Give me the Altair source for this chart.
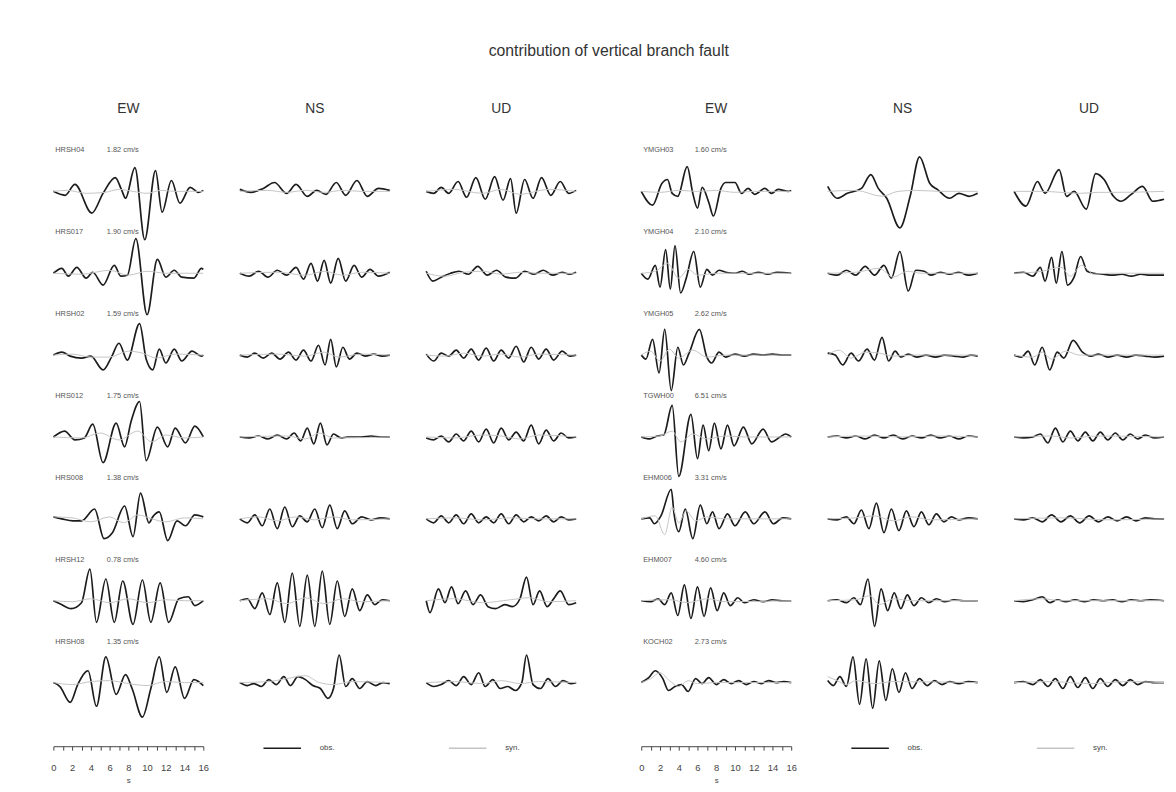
import altair as alt
import pandas as pd

TITLE = "contribution of vertical branch fault"
COMPONENTS = ["EW", "NS", "UD"]
KINDS = ["obs.", "syn."]
TIME_TICKS = list(range(0, 17))

LEFT_STATIONS = ["HRSH04", "HRS017", "HRSH02", "HRS012", "HRS008", "HRSH12", "HRSH08"]
LEFT_PGV = ["1.82 cm/s", "1.90 cm/s", "1.59 cm/s", "1.75 cm/s", "1.38 cm/s", "0.78 cm/s", "1.35 cm/s"]
RIGHT_STATIONS = ["YMGH03", "YMGH04", "YMGH05", "TGWH00", "EHM006", "EHM007", "KOCH02"]
RIGHT_PGV = ["1.60 cm/s", "2.10 cm/s", "2.62 cm/s", "6.51 cm/s", "3.31 cm/s", "4.60 cm/s", "2.73 cm/s"]

# ---- waveforms: (time s, amplitude) ----
# row 1 left
HRSH04_EW_OBS = [(0,0),(1.25,-4),(2.3,7),(4.1,-22),(5.3,-2),(6.6,14),(7.3,1),(7.7,-7),(8.7,24),(9.75,-49),(10.9,21),(11.6,-21),(12.6,11),(13.5,-12),(14.6,4),(15.5,-1),(16,1)]
HRSH04_EW_SYN = [(0,0),(1.5,1),(3.5,-2),(5.5,-1),(7,2),(8.5,0),(10,-2),(11.5,1),(13,0),(16,0)]
HRSH04_NS_OBS = [(0,2),(1.2,-1),(2.5,3),(3.7,9),(5.0,-2),(6.0,7),(7.2,-5),(8.2,1),(9.2,-3),(10.3,9),(11.3,-4),(12.5,11),(13.6,-5),(14.8,3),(16,1)]
HRSH04_NS_SYN = [(0,0),(3,1),(5,-1),(7,1),(9,-1),(11,1),(13,0),(16,0)]
HRSH04_UD_OBS = [(0,0),(0.8,-2),(1.6,4),(2.4,-2),(3.4,10),(4.3,-6),(5.3,14),(6.3,-8),(7.3,15),(8.2,-9),(9.0,13),(9.6,-22),(10.5,12),(11.4,-7),(12.3,14),(13.3,-4),(14.3,10),(15.2,-2),(16,1)]
HRSH04_UD_SYN = [(0,0),(3,2),(6,-2),(8,2),(10,-3),(13,2),(16,0)]
# row 2 left
HRS017_EW_OBS = [(0,0),(0.9,5),(1.6,-3),(2.5,6),(3.5,-5),(4.2,1),(5.3,-12),(6.5,8),(7.2,-3),(7.9,-2),(8.8,35),(10.0,-42),(11.1,14),(12.0,-4),(12.9,3),(13.7,-4),(15.0,-5),(15.8,5),(16,4)]
HRS017_EW_SYN = [(0,0),(3,-1),(6,3),(8,-2),(10,2),(12,0),(16,0)]
HRS017_NS_OBS = [(0,0),(1,-3),(2,2),(3,-4),(4,3),(5,-2),(6,6),(6.8,-6),(7.6,10),(8.3,-8),(9.0,13),(9.7,-10),(10.5,15),(11.3,-8),(12.2,8),(13.0,-4),(13.9,4),(14.8,-3),(16,1)]
HRS017_NS_SYN = [(0,0),(4,1),(7,-2),(9,2),(11,-2),(13,1),(16,0)]
HRS017_UD_OBS = [(0,2),(0.7,-8),(1.6,-4),(2.6,0),(3.5,2),(4.5,-1),(5.5,7),(6.5,-2),(7.5,3),(8.5,-4),(9.5,-5),(10.5,2),(11.5,-1),(12.5,3),(13.5,-2),(14.5,1),(15.3,-1),(16,1)]
HRS017_UD_SYN = [(0,0),(2,-3),(4,1),(6,2),(8,-1),(10,1),(12,0),(16,0)]
# row 3 left
HRSH02_EW_OBS = [(0,0),(0.9,3),(1.8,-1),(3.0,-3),(4.0,-1),(5.3,-15),(6.2,-2),(7.0,12),(7.9,-5),(9.2,32),(9.9,-4),(10.6,-15),(11.3,6),(12.0,-8),(12.9,6),(13.7,-6),(14.8,4),(15.8,-1),(16,0)]
HRSH02_EW_SYN = [(0,0),(2,1),(4,-2),(6,-2),(8,4),(9.5,2),(11,-3),(13,1),(16,0)]
HRSH02_NS_OBS = [(0,0),(0.8,-2),(1.6,2),(2.5,-3),(3.4,2),(4.3,-4),(5.2,3),(6.0,-5),(6.8,5),(7.6,-6),(8.4,10),(9.1,-10),(9.7,16),(10.3,-12),(11.0,8),(11.7,-4),(12.5,2),(13.4,-1),(14.3,1),(15.2,-1),(16,0)]
HRSH02_NS_SYN = [(0,0),(4,1),(7,-1),(9,3),(10.5,-2),(13,1),(16,0)]
HRSH02_UD_OBS = [(0,1),(0.8,-6),(1.6,2),(2.4,-1),(3.2,5),(4.0,-3),(4.8,6),(5.6,-5),(6.4,7),(7.2,-6),(8.0,5),(8.8,-3),(9.6,9),(10.4,-7),(11.2,8),(12.0,-4),(12.8,6),(13.6,-5),(14.5,4),(15.3,-1),(16,0)]
HRSH02_UD_SYN = [(0,0),(2,-1),(4,2),(6,-1),(8,1),(10,-2),(12,1),(16,0)]
# row 4 left
HRS012_EW_OBS = [(0,0),(1.2,6),(2.3,-3),(3.3,-1),(4.2,13),(5.3,-26),(6.7,14),(7.6,-10),(8.3,16),(9.2,36),(9.9,-24),(11.1,10),(12.2,-10),(13.0,9),(14.1,-6),(15.1,11),(16,0)]
HRS012_EW_SYN = [(0,0),(3,-1),(5,4),(7,-3),(9,6),(10.5,-5),(12,2),(14,-1),(16,0)]
HRS012_NS_OBS = [(0,0),(1,-1),(2,1),(3,-2),(4,2),(5,-2),(5.8,4),(6.5,-4),(7.2,9),(7.9,-7),(8.6,14),(9.3,-8),(10,3),(10.8,-1),(11.5,0),(13,0),(14,1),(15,0),(16,0)]
HRS012_NS_SYN = [(0,0),(5,1),(7,-2),(8.5,4),(10,-1),(16,0)]
HRS012_UD_OBS = [(0,-1),(0.8,-3),(1.6,1),(2.4,-5),(3.2,3),(4.0,-4),(4.8,6),(5.6,-5),(6.4,8),(7.2,-6),(8.0,9),(8.8,-3),(9.6,5),(10.4,-4),(11.2,12),(12.0,-7),(12.8,7),(13.6,-4),(14.4,4),(15.2,-1),(16,0)]
HRS012_UD_SYN = [(0,0),(3,-1),(6,2),(8,1),(10,-2),(12,2),(16,0)]
# row 5 left
HRS008_EW_OBS = [(0,2),(0.9,0),(2.1,-2),(3.0,-2),(4.4,10),(5.4,-20),(6.3,-14),(7.6,13),(8.5,-18),(9.3,26),(10.2,-4),(10.6,2),(11.3,7),(12.2,-22),(13.2,-2),(14.1,-7),(15.1,4),(16,2)]
HRS008_EW_SYN = [(0,2),(2,1),(4,-3),(6,2),(7.5,-4),(9,4),(10.5,0),(12,-3),(14,1),(16,0)]
HRS008_NS_OBS = [(0,0),(0.8,-4),(1.6,4),(2.4,-7),(3.2,10),(4.0,-10),(4.8,12),(5.6,-8),(6.4,3),(7.2,-3),(8.0,10),(8.8,-9),(9.6,14),(10.4,-10),(11.2,8),(12.0,-5),(13,2),(14,-1),(15,1),(16,0)]
HRS008_NS_SYN = [(0,0),(2,2),(4,-2),(6,2),(8,-1),(10,2),(12,-1),(16,0)]
HRS008_UD_OBS = [(0,0),(0.8,-4),(1.6,3),(2.4,-4),(3.2,4),(4.0,-5),(4.8,5),(5.6,-4),(6.4,2),(7.2,-4),(8.0,5),(8.8,-5),(9.6,4),(10.4,-3),(11.2,2),(12,-2),(12.8,3),(13.6,-3),(14.4,2),(15.2,-1),(16,0)]
HRS008_UD_SYN = [(0,0),(3,1),(6,-1),(9,1),(12,0),(16,0)]
# row 6 left
HRSH12_EW_OBS = [(0,0),(0.7,-3),(1.9,-8),(3.0,-2),(3.9,32),(4.6,-22),(5.6,22),(6.5,-22),(7.4,20),(8.5,-24),(9.5,21),(10.4,-22),(11.4,18),(12.3,-22),(13.4,2),(14.4,4),(15.1,-5),(16,0)]
HRSH12_EW_SYN = [(0,0),(2,-1),(4,2),(6,-2),(8,2),(10,-2),(12,1),(14,0),(16,0)]
HRSH12_NS_OBS = [(0,0),(0.8,2),(1.6,-8),(2.4,8),(3.2,-14),(4.0,18),(4.8,-22),(5.6,28),(6.4,-26),(7.2,26),(8.0,-26),(8.8,30),(9.6,-24),(10.4,20),(11.2,-16),(12.0,12),(12.8,-10),(13.6,6),(14.4,-4),(15.2,1),(16,0)]
HRSH12_NS_SYN = [(0,0),(3,2),(5,-3),(7,3),(9,-3),(11,2),(13,-1),(16,0)]
HRSH12_UD_OBS = [(0,0),(0.4,-12),(1.3,12),(2.0,-2),(2.7,14),(3.4,-3),(4.2,10),(5.0,-4),(5.8,6),(6.6,-6),(7.4,-8),(8.4,-4),(9.2,-6),(10.0,2),(10.7,24),(11.4,-4),(12.1,10),(12.9,-6),(13.6,2),(14.3,10),(15.2,-4),(16,-2)]
HRSH12_UD_SYN = [(0,0),(3,2),(6,-2),(9,1),(11,3),(13,-1),(16,0)]
# row 7 left
HRSH08_EW_OBS = [(0,0),(0.7,-4),(1.8,-20),(2.6,-2),(3.7,12),(4.6,-24),(5.6,26),(6.7,-12),(7.7,8),(8.4,-6),(9.5,-35),(10.4,-6),(11.3,26),(12.1,-10),(13.0,16),(14.0,-16),(15.0,3),(16,-3)]
HRSH08_EW_SYN = [(0,0),(2,-2),(4,1),(6,2),(8,-1),(10,-3),(12,1),(14,0),(16,0)]
HRSH08_NS_OBS = [(0,0),(0.8,-3),(1.5,-1),(2.3,-4),(3.1,3),(3.9,-2),(4.7,6),(5.4,-3),(6.2,6),(7.0,3),(7.8,-3),(8.6,-6),(9.4,-16),(10.0,-6),(10.6,28),(11.3,-4),(12.0,4),(12.8,-6),(13.6,1),(14.5,-3),(15.3,0),(16,-1)]
HRSH08_NS_SYN = [(0,0),(3,1),(5,4),(7,7),(8.5,0),(10,-2),(12,1),(16,0)]
HRSH08_UD_OBS = [(0,0),(0.8,-4),(1.6,-2),(2.4,2),(3.2,-3),(4.0,6),(4.8,-2),(5.6,10),(6.3,-4),(7.1,3),(7.9,-6),(8.7,-4),(9.5,-8),(10.2,0),(10.7,28),(11.4,-2),(12.2,-6),(13.0,4),(13.8,-4),(14.6,2),(15.4,-1),(16,0)]
HRSH08_UD_SYN = [(0,0),(3,1),(6,-1),(8,2),(10,-1),(12,1),(16,0)]

# row 1 right
YMGH03_EW_OBS = [(0,0),(1.2,-14),(2.2,8),(2.8,12),(3.3,-2),(3.9,-5),(4.9,25),(5.5,-2),(6.0,-17),(6.5,4),(7.2,-11),(7.7,-25),(8.5,3),(9.0,9),(10.0,9),(10.7,-2),(11.4,3),(12.1,-3),(13.2,3),(13.9,-2),(14.6,2),(15.7,0),(16,1)]
YMGH03_EW_SYN = [(0,0),(2,-1),(4,1),(6,0),(8,1),(10,-1),(12,0),(16,0)]
YMGH03_NS_OBS = [(0,5),(1.0,-7),(2.1,-2),(3.6,3),(4.6,17),(5.4,3),(6.3,-7),(7.7,-37),(8.8,-5),(9.8,35),(10.9,8),(11.7,2),(13.0,-7),(14.0,-2),(15.1,-5),(16,-2)]
YMGH03_NS_SYN = [(0,0),(3,1),(5.8,-5),(7.5,0),(9.5,1),(12,0),(16,0)]
YMGH03_UD_OBS = [(0,0),(1.25,-15),(2.5,10),(3.0,2),(3.3,-2),(4.8,22),(5.6,-5),(6.4,0),(7.7,-18),(8.7,18),(9.6,12),(10.6,-5),(11.4,-10),(12.5,-3),(13.7,5),(14.8,-10),(16,-8)]
YMGH03_UD_SYN = [(0,0),(3,0),(5,-1),(7,-2),(9,-1),(11,-1),(16,0)]
# row 2 right
YMGH04_EW_OBS = [(0,0),(0.7,-6),(1.5,8),(2.0,-14),(2.6,24),(3.1,-16),(3.6,28),(4.2,-20),(4.8,-5),(5.6,22),(6.3,-14),(7.0,4),(7.6,-2),(8.3,3),(9,1),(10,0),(10.8,2),(11.5,-1),(12.5,1),(13.5,-1),(14.5,1),(16,0)]
YMGH04_EW_SYN = [(0,0),(1.5,2),(2.8,10),(4,-5),(5,4),(6,-2),(8,0),(16,0)]
YMGH04_NS_OBS = [(0,0),(1,-2),(2,3),(3,-2),(4,7),(5,-2),(6,8),(6.8,-5),(7.7,22),(8.6,-18),(9.4,3),(10.3,2),(11,-2),(12,1),(13,-1),(14,1),(15,-2),(16,0)]
YMGH04_NS_SYN = [(0,0),(3,1),(5.5,5),(7,-4),(8.5,2),(10,0),(16,0)]
YMGH04_UD_OBS = [(0,0),(1,1),(2,-3),(2.8,6),(3.3,-8),(4.0,16),(4.5,-10),(5.1,22),(5.7,-12),(6.4,-4),(7.1,17),(7.8,2),(8.5,0),(9.5,-1),(10.5,-2),(11.5,-1),(12.5,-3),(13.5,-1),(14.5,-2),(16,-2)]
YMGH04_UD_SYN = [(0,0),(3,2),(5,6),(6,-3),(7.2,8),(8.5,-1),(10,0),(16,0)]
# row 3 right
YMGH05_EW_OBS = [(0,0),(0.5,-4),(1.2,16),(1.9,-18),(2.5,26),(3.2,-36),(3.9,8),(4.5,-10),(5.1,2),(6.2,26),(7.0,-2),(7.5,-8),(8.3,3),(9.0,-2),(10,1),(11,-1),(12,1),(13,0),(14,1),(15,0),(16,0)]
YMGH05_EW_SYN = [(0,0),(1,4),(2,-6),(3,6),(4,-3),(5.5,5),(7,-2),(9,0),(16,0)]
YMGH05_NS_OBS = [(0,2),(0.8,0),(1.6,-10),(2.5,2),(3.3,-6),(4.2,6),(5.0,-5),(5.8,18),(6.5,-6),(7.2,4),(7.8,-2),(8.6,1),(9.5,-2),(10.5,0),(11.5,-2),(12.5,0),(13.5,-1),(14.5,-2),(15.3,0),(16,-1)]
YMGH05_NS_SYN = [(0,0),(1.2,5),(2.5,-3),(4,3),(5.5,2),(7,-1),(9,0),(16,0)]
YMGH05_UD_OBS = [(0,0),(0.8,-2),(1.5,4),(2.2,-10),(3.0,8),(3.8,-15),(4.6,3),(5.3,-3),(6.3,15),(7.3,3),(8.2,-1),(9.0,1),(10.0,-2),(11.0,0),(12.0,-2),(13.0,0),(14.0,-1),(15.0,-2),(16,-1)]
YMGH05_UD_SYN = [(0,0),(2,-2),(3,3),(4,-4),(5.5,4),(7,0),(16,0)]
# row 4 right
TGWH00_EW_OBS = [(0,0),(0.9,-2),(1.7,1),(2.4,2),(3.3,32),(4.0,-40),(5.3,23),(6.0,-22),(6.6,12),(7.2,-14),(7.8,14),(8.5,-12),(9.2,12),(9.9,-9),(10.9,10),(11.8,-7),(13.0,8),(13.9,-5),(14.8,0),(15.4,3),(16,0)]
TGWH00_EW_SYN = [(0,0),(2,1),(3.3,6),(4.2,-5),(5.5,3),(7,-2),(9,1),(11,0),(16,0)]
TGWH00_NS_OBS = [(0,0),(1,1),(2,-1),(3,1),(4,-2),(5,2),(6,-1),(7,2),(8,-2),(9,1),(10,-1),(11,2),(12,-1),(13,1),(14,-2),(15,1),(16,0)]
TGWH00_NS_SYN = [(0,0),(4,1),(8,0),(12,1),(16,0)]
TGWH00_UD_OBS = [(0,0),(1,-1),(2,0),(2.8,3),(3.6,-6),(4.4,9),(5.2,-5),(6.0,6),(6.8,-4),(7.6,5),(8.4,-4),(9.2,5),(10.0,-3),(10.8,4),(11.6,-3),(12.4,3),(13.2,-2),(14.0,2),(15,-1),(16,0)]
TGWH00_UD_SYN = [(0,0),(4,1),(6,-1),(9,1),(16,0)]
# row 5 right
EHM006_EW_OBS = [(0,0),(0.9,1),(1.4,-5),(2.1,3),(3.2,30),(3.5,5),(4.0,-13),(4.7,10),(5.5,-20),(6.3,14),(7.0,-5),(7.6,7),(8.3,-10),(9.2,5),(10.0,-7),(11.1,7),(12.0,-5),(13.2,7),(14.1,-5),(15.1,1),(16,0)]
EHM006_EW_SYN = [(0,0),(1.5,3),(2.5,-16),(3.3,12),(4.0,-4),(4.8,8),(5.8,-2),(7,2),(9,0),(16,0)]
EHM006_NS_OBS = [(0,0),(1,-1),(2,2),(2.8,-5),(3.6,9),(4.4,-10),(5.2,16),(6.0,-14),(6.8,10),(7.6,-12),(8.4,8),(9.2,-8),(10.0,7),(10.8,-6),(11.6,5),(12.4,-3),(13.2,2),(14,-1),(15,1),(16,0)]
EHM006_NS_SYN = [(0,0),(3,1),(5,3),(7,-2),(9,2),(11,-1),(16,0)]
EHM006_UD_OBS = [(0,0),(1,-1),(2,1),(3,-3),(4,4),(5,-3),(6,3),(7,-4),(8,3),(9,-3),(10,2),(11,-2),(12,2),(13,-2),(14,1),(15,0),(16,0)]
EHM006_UD_SYN = [(0,0),(5,1),(10,-1),(16,0)]
# row 6 right
EHM007_EW_OBS = [(0,0),(1,-1),(1.8,2),(2.5,-4),(3.2,8),(3.9,-15),(4.6,16),(5.3,-18),(6.0,14),(6.7,-16),(7.4,13),(8.1,-10),(8.8,8),(9.5,-5),(10.3,3),(11,-2),(12,1),(13,-1),(14,1),(15,0),(16,0)]
EHM007_EW_SYN = [(0,0),(3,1),(5,-2),(7,2),(9,-1),(16,0)]
EHM007_NS_OBS = [(0,0),(1,1),(2,-2),(2.8,3),(3.5,-4),(4.3,22),(5.0,-26),(5.7,12),(6.4,-10),(7.1,8),(7.8,-8),(8.5,6),(9.2,-5),(10,3),(10.8,-2),(11.6,2),(12.5,-1),(13.5,1),(14.5,0),(16,0)]
EHM007_NS_SYN = [(0,0),(3,1),(4.5,5),(5.5,-4),(7,2),(9,0),(16,0)]
EHM007_UD_OBS = [(0,0),(1,-1),(2,1),(3,4),(3.8,-2),(4.6,1),(5.5,-1),(6.5,1),(7.5,-1),(8.5,1),(9.5,0),(10.5,1),(11.5,-1),(12.5,1),(13.5,0),(14.5,1),(16,0)]
EHM007_UD_SYN = [(0,0),(3,2),(5,0),(16,0)]
# row 7 right
KOCH02_EW_OBS = [(0,0),(0.8,5),(1.5,12),(2.3,4),(2.9,-8),(3.6,-4),(4.3,-2),(5.0,-9),(5.8,4),(6.5,-1),(7.2,5),(8,-2),(8.8,3),(9.6,-1),(10.4,2),(11.2,-2),(12,1),(12.8,-1),(13.6,2),(14.4,0),(15.2,1),(16,0)]
KOCH02_EW_SYN = [(0,0),(1,4),(2,10),(3,2),(4,-4),(5,2),(6,-1),(8,0),(16,0)]
KOCH02_NS_OBS = [(0,2),(0.6,-3),(1.3,6),(2.0,-4),(2.7,26),(3.4,-22),(4.1,24),(4.8,-26),(5.5,22),(6.2,-18),(6.9,14),(7.6,-10),(8.3,10),(9.0,-6),(9.8,4),(10.6,-3),(11.4,2),(12.2,-2),(13,1),(14,-1),(15,1),(16,0)]
KOCH02_NS_SYN = [(0,6),(1,2),(2,-2),(3,2),(5,-1),(7,1),(16,0)]
KOCH02_UD_OBS = [(0,0),(1,1),(2,-2),(2.8,3),(3.6,-4),(4.4,4),(5.2,-6),(6.0,6),(6.8,-5),(7.6,5),(8.4,-6),(9.2,4),(10.0,-4),(10.8,3),(11.6,-3),(12.4,3),(13.2,-2),(14,1),(15,0),(16,0)]
KOCH02_UD_SYN = [(0,0),(4,1),(8,-1),(12,1),(16,0)]

FONT = "Liberation Sans"


def block_table(stations, pgvs):
    recs = []
    for r, (st, pgv) in enumerate(zip(stations, pgvs)):
        for comp in COMPONENTS:
            for kind, suffix in (("obs.", "OBS"), ("syn.", "SYN")):
                for t, a in globals()[f"{st}_{comp}_{suffix}"]:
                    recs.append(dict(row=r, comp=comp, kind=kind, t=t, a=a, station="", pgv=""))
        recs.append(dict(row=r, comp="EW", kind="label", t=0.0, a=0.0, station=st, pgv=pgv))
    return pd.DataFrame(recs)


def block(stations, pgvs):
    df = block_table(stations, pgvs)
    base = alt.Chart(df)
    xs = alt.Scale(domain=[0, 16], nice=False, zero=False)
    ys = alt.Scale(domain=[-41.5, 41.5], nice=False, zero=False)
    x = alt.X("t:Q", scale=xs, axis=None)
    y = alt.Y("a:Q", scale=ys, axis=None)
    color = alt.Color(
        "kind:N",
        scale=alt.Scale(domain=KINDS, range=["#1c1c1c", "#c4c4c4"]),
        legend=alt.Legend(
            title=None, orient="none", legendX=212, legendY=586,
            direction="horizontal", symbolType="stroke", symbolSize=1444,
            symbolStrokeWidth=1.5, labelFontSize=8, labelColor="#444",
            labelFont=FONT, labelOffset=18, columnPadding=112,
        ),
    )
    obs = base.transform_filter(alt.datum.kind == "obs.").mark_line(
        interpolate="monotone", strokeWidth=1.7
    ).encode(x=x, y=y, color=color, order="t:Q")
    syn = base.transform_filter(alt.datum.kind == "syn.").mark_line(
        interpolate="monotone", strokeWidth=1.0
    ).encode(x=x, y=y, color=color, order="t:Q")
    names = base.transform_filter(alt.datum.kind == "label").mark_text(
        align="left", baseline="middle", fontSize=7.5, color="#555", font=FONT
    ).encode(x=alt.datum(0.2), y=alt.datum(41.5), text="station:N")
    amps = base.transform_filter(alt.datum.kind == "label").mark_text(
        align="left", baseline="middle", fontSize=7.5, color="#555", font=FONT
    ).encode(x=alt.datum(5.7), y=alt.datum(41.5), text="pgv:N")

    panels = alt.layer(obs, syn, names, amps).properties(width=152, height=83).facet(
        row=alt.Row("row:O", header=alt.Header(labels=False, title=None)),
        column=alt.Column(
            "comp:N", sort=COMPONENTS,
            header=alt.Header(title=None, labelFontSize=14, labelFont=FONT,
                              labelColor="#333", labelPadding=35),
        ),
        spacing={"row": 0, "column": 37},
        bounds="flush",
    )

    axis = alt.Chart(pd.DataFrame({"t": TIME_TICKS})).mark_point(opacity=0).encode(
        x=alt.X(
            "t:Q", scale=xs,
            axis=alt.Axis(
                values=TIME_TICKS,
                labelExpr="datum.value % 2 == 0 ? datum.label : ''",
                labelOverlap=False, labelFlush=False, grid=False,
                title="s", titleFontSize=8, titleFontWeight="normal",
                titleColor="#444", titleFont=FONT, titlePadding=4,
                labelFont=FONT, labelFontSize=9.5, labelColor="#444",
                labelPadding=13, tickSize=4, tickColor="#444", domainColor="#444",
            ),
        )
    ).properties(width=152, height=1)

    return alt.vconcat(panels, axis, spacing=19)


left = block(LEFT_STATIONS, LEFT_PGV)
right = block(RIGHT_STATIONS, RIGHT_PGV)

chart = alt.hconcat(left, right, spacing=58).resolve_scale(color="independent").properties(
    title=alt.Title(TITLE, fontSize=16, font=FONT, fontWeight="normal", color="#333",
                    anchor="middle", offset=44),
    padding={"left": 42, "top": 30, "right": 0, "bottom": 0},
).configure_view(stroke=None)

chart.save("out.html", embed_options={"renderer": "svg", "actions": False})
